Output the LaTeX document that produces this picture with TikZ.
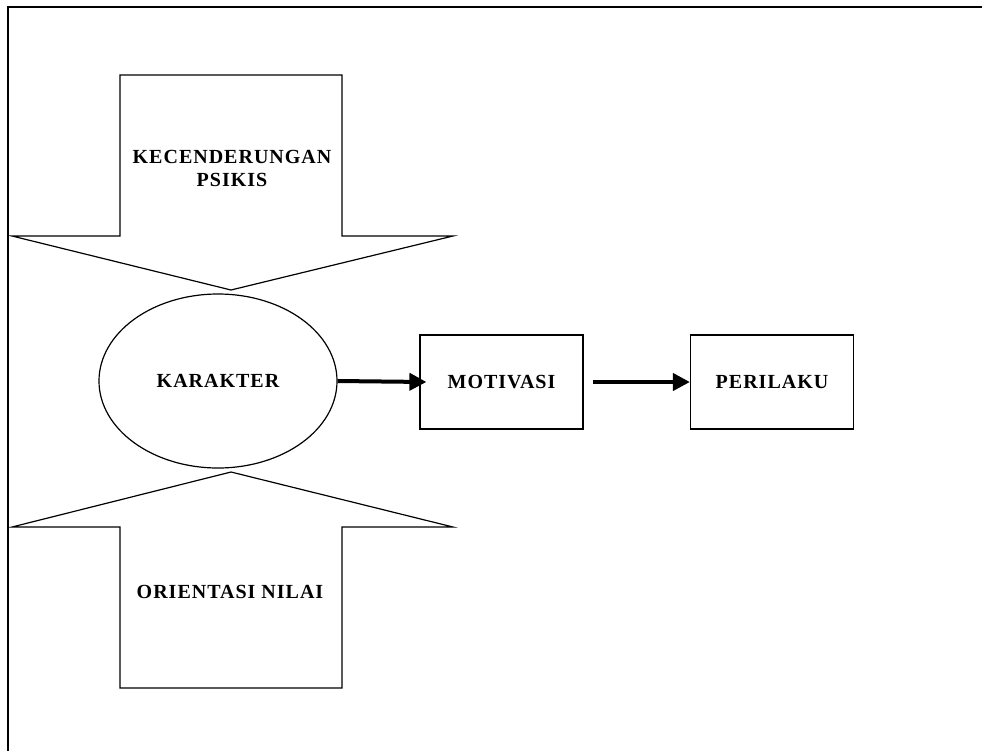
\documentclass[tikz,border=0pt]{standalone}
\usepackage{fontspec}
\setmainfont{Liberation Serif}[LetterSpace=5]
\usetikzlibrary{arrows.meta,shapes.geometric}
\begin{document}
\begin{tikzpicture}[x=1pt,y=-1pt,
  bigarrow/.style={draw=black,line width=1.2pt,line join=miter},
  txt/.style={font=\fontsize{20}{23}\selectfont\bfseries,align=center,inner sep=0pt},
  box/.style={draw=black,line width=1.2pt,minimum width=163pt,minimum height=94pt,inner sep=0pt,font=\fontsize{20}{23}\selectfont\bfseries},
  oval/.style={draw=black,ellipse,line width=1.2pt,minimum width=238pt,minimum height=174pt,inner sep=0pt,font=\fontsize{20}{23}\selectfont\bfseries},
  flow/.style={line width=4pt,-{Triangle[length=17pt,width=17pt]}}]
\useasboundingbox (0,0) rectangle (982,750);
% frame
\draw[line width=2.2pt] (8,751) -- (8,7) -- (983,7);
% big arrows
\draw[bigarrow] (120,75) -- (342,75) -- (342,236) -- (453,236) -- (231,290) -- (12,236) -- (120,236) -- cycle;
\draw[bigarrow] (120,688) -- (342,688) -- (342,527) -- (453,527) -- (231,472) -- (12,527) -- (120,527) -- cycle;
\node[txt] (psi) at (232,168) {KECENDERUNGAN\\PSIKIS};
\node[txt] (ori) at (230,592) {ORIENTASI NILAI};
% nodes
\node[oval] (kar) at (218,381) {KARAKTER};
\node[box] (mot) at (501.5,382) {MOTIVASI};
\node[box] (per) at (772,382) {PERILAKU};
% connectors
\draw[flow] (kar.east) -- ([xshift=7pt]mot.west);
\draw[flow] ([xshift=9pt]mot.east) -- (per.west);
\end{tikzpicture}
\end{document}
